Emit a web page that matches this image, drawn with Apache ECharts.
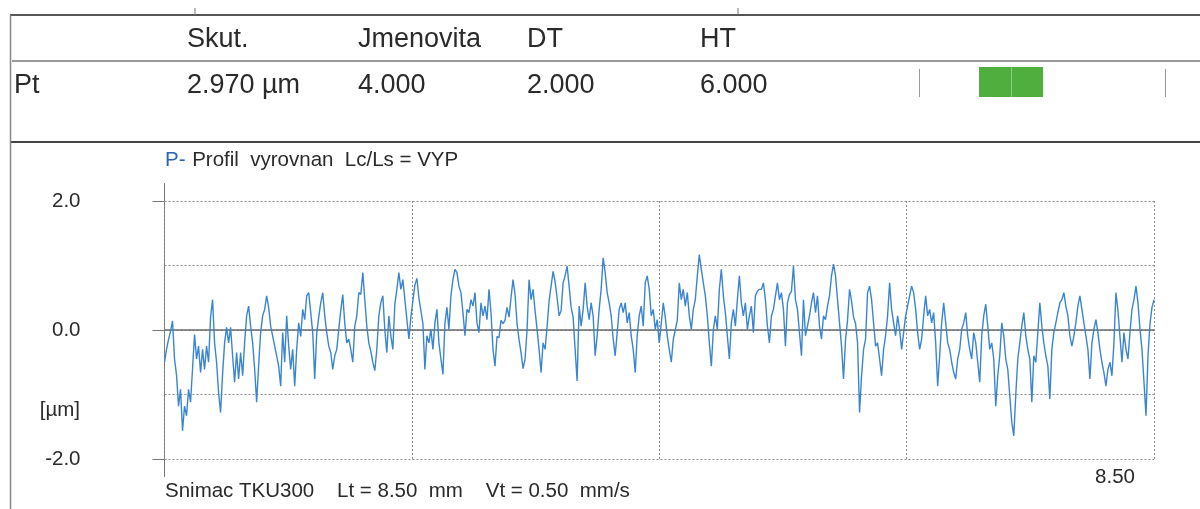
<!DOCTYPE html>
<html><head><meta charset="utf-8">
<script src="https://cdn.jsdelivr.net/npm/echarts@6/dist/echarts.min.js"></script>
<style>html,body{margin:0;padding:0;background:#fff}#c{width:1200px;height:509px}</style>
</head><body><div id="c"></div>
<script>
// ---- data ----
const headerLabels = ['Skut.', 'Jmenovita', 'DT', 'HT'];
const rowName = 'Pt';
const rowValues = ['2.970 µm', '4.000', '2.000', '6.000'];
const titleMarker = 'P-';
const titleText = 'Profil  vyrovnan  Lc/Ls = VYP';
const yUnit = '[µm]';
const footerText = 'Snimac TKU300    Lt = 8.50  mm    Vt = 0.50  mm/s';
const lengthMM = 8.5;
const xEndLabel = '8.50';
const yTickLabels = { '-2': '-2.0', '0': '0.0', '2': '2.0' };
// profile heights [µm], sampled evenly along Lt
const profile = [
-0.5,-0.3,-0.15,-0.02,0.14,-0.45,-0.7,-1.18,-0.92,-1.56,
-1.18,-1.33,-0.92,-1.12,-0.6,-0.07,-0.45,-0.25,-0.66,-0.3,
-0.61,-0.25,-0.5,0.2,0.47,-0.2,-0.5,-0.97,-1.28,-0.68,
-0.2,0.04,-0.2,0.04,-0.4,-0.81,-0.35,-0.76,-0.35,-0.71,
-0.2,0.22,0.37,0.06,-0.2,-0.6,-1.12,-0.55,-0.04,0.22,
0.32,0.53,0.35,0.06,-0.09,-0.25,-0.4,-0.56,-0.87,-0.04,
-0.5,0.22,-0.25,-0.61,-0.3,-0.87,-0.3,0.11,-0.1,0.32,
0.16,0.53,0.58,0.27,-0.04,-0.76,-0.05,0.2,0.42,0.58,
0.22,-0.04,-0.25,-0.35,-0.61,-0.4,-0.3,0.01,0.3,0.55,
0.1,-0.2,-0.14,-0.3,-0.5,0.06,0.22,0.58,
0.55,0.89,0.47,0.06,-0.2,-0.33,-0.5,-0.63,-0.3,0.22,
0.42,0.53,0.0,-0.35,0.22,-0.09,-0.3,0.4,0.63,0.89,
0.63,0.78,0.47,0.16,-0.14,0.2,0.45,0.7,0.8,0.5,
0.3,0.1,-0.61,-0.09,-0.2,0.01,-0.3,0.11,0.32,-0.2,
-0.45,-0.69,0.1,0.35,0.01,0.53,0.78,0.94,0.89,0.68,
0.58,0.27,-0.09,0.32,0.27,0.47,0.37,0.58,0.11,-0.04,
0.42,0.22,0.37,0.16,0.63,0.27,-0.3,-0.56,-0.1,-0.12,
0.15,0.1,0.15,0.35,0.2,0.5,0.78,0.55,0.1,-0.15,
-0.35,-0.6,-0.45,0.0,0.78,0.47,0.63,0.3,0.01,-0.3,
-0.66,-0.2,-0.3,0.05,0.45,0.68,0.91,0.75,0.5,0.22,
0.3,0.73,0.84,0.99,0.68,0.35,0.2,-0.3,-0.79,0.37,
0.06,0.32,0.73,0.37,0.16,0.42,0.22,-0.4,-0.09,0.32,
0.63,1.12,0.89,0.58,0.42,0.22,-0.14,-0.4,-0.04,0.32,
0.42,0.27,0.42,0.11,0.27,-0.09,-0.3,-0.66,-0.09,0.22,
0.37,0.06,0.73,0.84,0.63,0.22,0.32,0.01,0.16,-0.2,
0.1,0.42,0.2,-0.09,-0.3,-0.5,-0.15,0.0,0.15,0.73,
0.47,0.63,0.37,0.58,0.22,0.01,0.32,0.47,0.84,1.17,
0.94,0.73,0.53,0.22,-0.2,-0.56,0.0,0.22,0.01,0.63,
0.94,0.53,0.27,-0.09,-0.45,0.11,0.32,0.06,0.47,0.84,
0.42,0.22,0.42,0.01,0.22,0.37,-0.04,0.53,0.6,0.63,
0.63,0.73,0.47,0.06,-0.2,0.22,0.32,0.53,0.73,0.47,
0.58,0.32,-0.25,0.42,0.55,0.6,0.99,0.47,0.32,-0.04,
-0.4,0.47,-0.09,0.06,0.22,0.42,0.58,0.27,0.53,0.06,
-0.14,0.22,0.16,0.37,0.53,0.84,1.02,0.84,0.47,0.11,
-0.25,-0.76,-0.15,0.15,0.63,0.45,0.2,0.1,-0.2,-1.28,
-0.71,-0.3,-0.14,0.58,0.68,0.47,0.11,-0.25,-0.2,-0.45,
-0.71,-0.3,-0.09,0.22,0.73,0.32,0.11,-0.09,0.22,0.01,
-0.3,-0.04,0.22,0.37,0.53,0.68,0.58,0.32,-0.04,-0.3,
-0.14,0.22,0.53,0.22,0.32,0.11,0.27,-0.2,-0.87,-0.4,
0.11,0.42,0.11,-0.2,-0.3,-0.5,-0.66,-0.76,-0.45,-0.3,
0.01,0.11,0.27,-0.09,-0.3,-0.45,-0.04,-0.2,-0.5,-0.81,
-0.09,0.22,0.4,0.06,-0.3,-0.2,-0.45,-1.18,-0.71,-0.4,
0.11,-0.09,-0.45,-0.61,-1.02,-1.43,-1.64,-1.0,-0.45,-0.2,
0.06,0.27,-0.09,-0.3,-0.45,-1.12,-0.4,-0.5,-0.04,0.42,
0.06,-0.2,-0.4,-0.56,-1.07,-0.3,-0.04,0.11,0.27,0.42,
0.47,0.58,0.37,0.22,-0.09,-0.25,-0.09,0.11,0.37,0.53,
0.32,0.11,-0.09,-0.3,-0.76,-0.2,0.01,0.16,-0.04,-0.3,
-0.5,-0.66,-0.87,-0.61,-0.5,-0.71,-0.2,0.58,0.3,-0.1,
-0.5,-0.04,-0.3,-0.45,-0.04,0.32,0.47,0.68,0.42,0.01,
-0.3,-0.81,-1.33,-0.4,0.1,0.35,0.47
];

// ---- build ----
const N = profile.length;
const seriesData = profile.map((v, i) => [i * lengthMM / (N - 1), v]);

const FONT = '"Liberation Sans", Arial, sans-serif';
const txtCol = '#2a2a2a';
const colX = [187, 358, 527, 700];

const graphics = [];
function hline(x1, x2, y, w, c) { graphics.push({ type: 'line', shape: { x1, y1: y, x2, y2: y }, style: { stroke: c, lineWidth: w } }); }
function vline(x, y1, y2, w, c) { graphics.push({ type: 'line', shape: { x1: x, y1, x2: x, y2 }, style: { stroke: c, lineWidth: w } }); }
function text(t, x, y, size, align, color) {
  graphics.push({ type: 'text', x, y, style: { text: t, font: size + 'px ' + FONT, fill: color || txtCol, textAlign: align || 'left', textVerticalAlign: 'middle' } });
}
// table frame
hline(10, 1200, 15, 2, '#555');
hline(12, 1200, 61, 1.5, '#777');
hline(10, 1200, 142, 2.2, '#444');
vline(10.5, 15, 509, 1.5, '#888');
vline(195, 8, 15, 1, '#777');
vline(738, 8, 15, 1, '#777');
// header & row
headerLabels.forEach((h, i) => text(h, colX[i], 40, 27));
text(rowName, 14, 86, 27);
rowValues.forEach((v, i) => text(v, colX[i], 86, 27));
// status indicator
vline(919.5, 69, 97, 1, '#999');
vline(1165.5, 69, 97, 1, '#999');
graphics.push({ type: 'rect', shape: { x: 979, y: 67, width: 64, height: 30 }, style: { fill: '#4fae3d' } });
vline(1011.5, 67, 97, 1, '#8ccf7e');
// chart title
graphics.push({ type: 'text', x: 165, y: 160, style: {
  text: '{m|' + titleMarker + '}  {t|' + titleText + '}',
  rich: { m: { font: '20.5px ' + FONT, fill: '#2c63b5' }, t: { font: '20.5px ' + FONT, fill: txtCol } },
  textVerticalAlign: 'middle' } });
// unit
text(yUnit, 80, 410, 20.5, 'right');
// footer
text(footerText, 165, 491, 20.5);
// extended y axis line
vline(164.5, 183, 477, 1, '#777');

const chart = echarts.init(document.getElementById('c'), null, { renderer: 'canvas' });
chart.setOption({
  animation: false,
  backgroundColor: '#fff',
  grid: { left: 164.5, right: 46, top: 201, bottom: 50, containLabel: false },
  xAxis: {
    type: 'value', min: 0, max: lengthMM, interval: lengthMM / 4,
    axisLine: { show: false }, axisTick: { show: false },
    axisLabel: {
      formatter: v => (Math.abs(v - lengthMM) < 1e-9 ? xEndLabel : ''),
      showMinLabel: false, showMaxLabel: true,
      align: 'right', padding: [0, 19, 0, 0], margin: 8,
      fontSize: 20.5, fontFamily: FONT, color: txtCol
    },
    splitLine: { show: true, lineStyle: { color: '#8c8c8c', width: 1, type: [2, 2] } }
  },
  yAxis: [{
    type: 'value', min: -2, max: 2, interval: 1,
    axisLine: { show: false }, axisTick: { show: false },
    axisLabel: {
      formatter: v => yTickLabels[String(v)] || '',
      margin: 84, fontSize: 20.5, fontFamily: FONT, color: txtCol
    },
    splitLine: { show: true, lineStyle: { color: '#8c8c8c', width: 1, type: [2, 2] } }
  }, {
    type: 'value', min: -2, max: 2, interval: 2, position: 'left',
    axisLine: { show: false },
    axisTick: { show: true, length: 12, lineStyle: { color: '#777', width: 1 } },
    axisLabel: { show: false }, splitLine: { show: false }
  }],
  series: [{
    type: 'line', data: seriesData, showSymbol: false, smooth: false,
    lineStyle: { color: '#3a85d2', width: 1.4 },
    z: 3,
    markLine: {
      silent: true, symbol: 'none', label: { show: false },
      lineStyle: { color: '#6a6a6a', width: 1.5, type: 'solid' },
      data: [{ yAxis: 0 }], z: 2
    }
  }],
  graphic: graphics
});
</script>
</body></html>
